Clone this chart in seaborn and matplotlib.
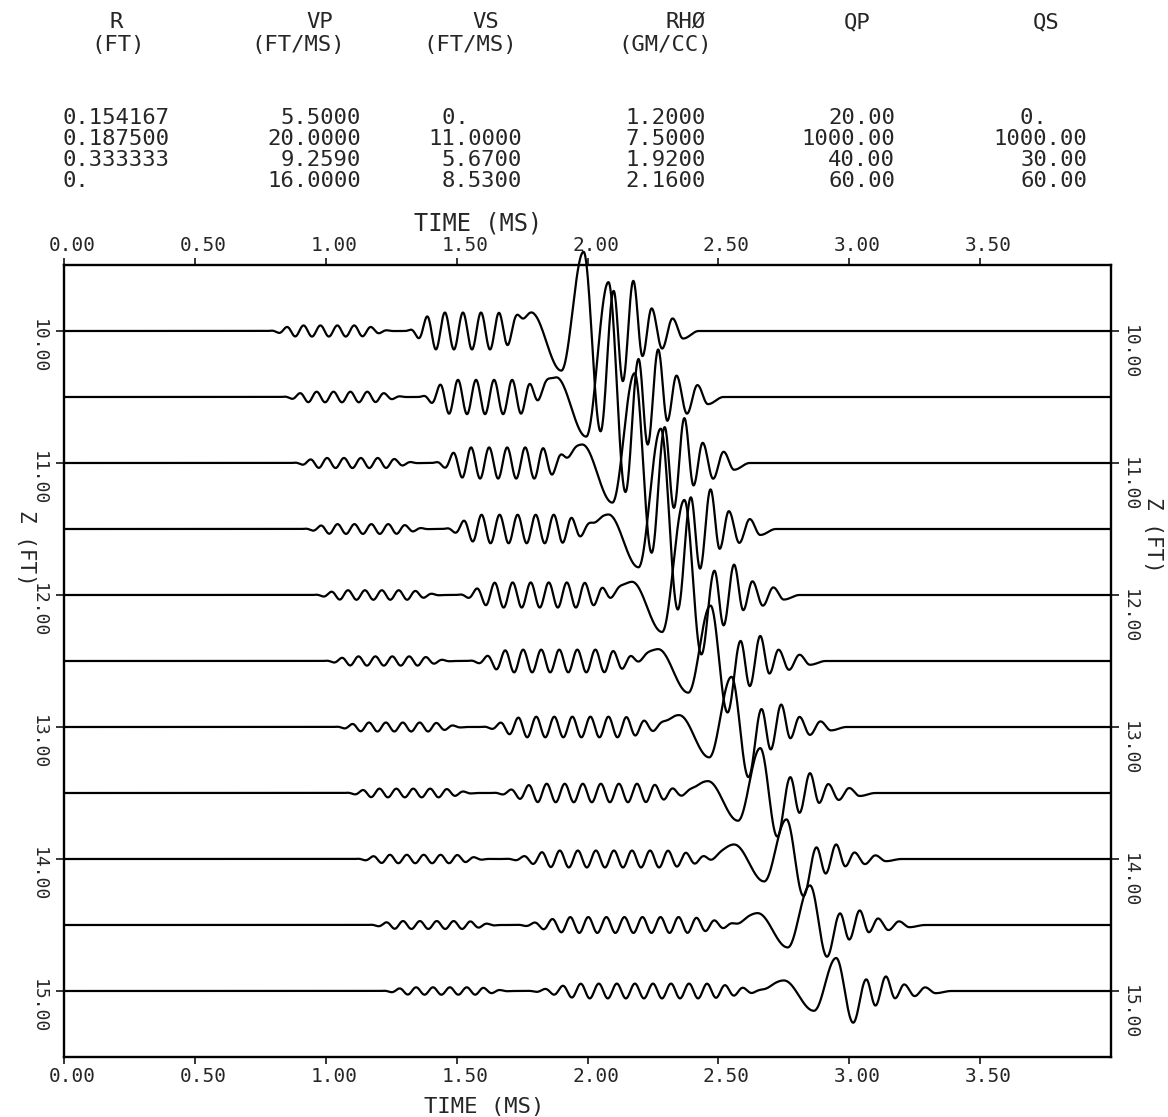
import numpy as np
import pandas as pd
import matplotlib
matplotlib.use("Agg")
import matplotlib.pyplot as plt
import seaborn as sns
from matplotlib.transforms import ScaledTranslation

# ---------------- data ----------------
depths = [10.0, 10.5, 11.0, 11.5, 12.0, 12.5, 13.0, 13.5, 14.0, 14.5, 15.0]   # Z (FT)

# P-wave packet: start / end time (ms), amplitude (ft of trace offset)
p_start = [0.77, 0.82, 0.86, 0.90, 0.94, 0.98, 1.02, 1.06, 1.10, 1.15, 1.20]
p_end   = [1.27, 1.32, 1.37, 1.41, 1.46, 1.50, 1.55, 1.59, 1.64, 1.68, 1.72]
p_amp   = [0.042, 0.040, 0.038, 0.037, 0.036, 0.035, 0.034, 0.033, 0.032, 0.030, 0.028]

# S-wave packet
s_start = [1.30, 1.35, 1.40, 1.44, 1.49, 1.53, 1.58, 1.62, 1.67, 1.71, 1.75]
s_end   = [1.80, 1.89, 1.98, 2.07, 2.17, 2.27, 2.35, 2.45, 2.55, 2.64, 2.73]
s_amp   = [0.140, 0.130, 0.118, 0.108, 0.095, 0.086, 0.078, 0.070, 0.064, 0.060, 0.056]

# large low-frequency pulse: time of main peak and extreme values (ft)
st_peak_time = [1.985, 2.08, 2.18, 2.28, 2.37, 2.47, 2.55, 2.66, 2.76, 2.85, 2.95]
st_bump      = [0.14, 0.15, 0.14, 0.11, 0.10, 0.09, 0.09, 0.09, 0.11, 0.09, 0.08]
st_pre       = [0.30, 0.30, 0.30, 0.29, 0.28, 0.24, 0.23, 0.21, 0.17, 0.17, 0.15]
st_main      = [0.60, 0.87, 0.68, 0.76, 0.72, 0.42, 0.38, 0.34, 0.30, 0.30, 0.25]
st_post      = [0.76, 0.72, 0.68, 0.61, 0.45, 0.39, 0.38, 0.33, 0.28, 0.24, 0.24]
st_tail      = [0.38, 0.36, 0.34, 0.30, 0.23, 0.19, 0.17, 0.15, 0.11, 0.11, 0.11]
# extremum times of the pulse relative to its main peak (ms) and tail pattern
st_rel_times = [-0.30, -0.20, -0.085, 0.0, 0.065, 0.115, 0.15, 0.19, 0.225,
                0.26, 0.30, 0.34, 0.38, 0.44]
tail_pattern = [0.8, -1.0, 1.0, -0.5, 0.45, -0.35, 0.25, -0.15]

x_ticks = [0.0, 0.5, 1.0, 1.5, 2.0, 2.5, 3.0, 3.5]
x_tick_labels = ["0.00", "0.50", "1.00", "1.50", "2.00", "2.50", "3.00", "3.50"]
y_ticks = [10, 11, 12, 13, 14, 15]
y_tick_labels = ["10.00", "11.00", "12.00", "13.00", "14.00", "15.00"]

col_heads = ["R", "VP", "VS", "RHØ", "QP", "QS"]
col_units = ["(FT)", "(FT/MS)", "(FT/MS)", "(GM/CC)", "", ""]
col_R   = ["0.154167", "0.187500", "0.333333", "0."]
col_VP  = ["5.5000", "20.0000", "9.2590", "16.0000"]
col_VS  = ["0.    ", "11.0000", "5.6700", "8.5300"]
col_RHO = ["1.2000", "7.5000", "1.9200", "2.1600"]
col_QP  = ["20.00", "1000.00", "40.00", "60.00"]
col_QS  = ["0.   ", "1000.00", "30.00", "60.00"]

F_P, F_S = 15.5, 14.5     # carrier frequencies (kHz) of the wave trains

# ---------------- build traces ----------------
t = np.linspace(0.0, 4.0, 2401)


def packet(tt, t1, t2, amp, f):
    u = (tt - t1) / (t2 - t1)
    env = np.zeros_like(tt)
    m = (u >= 0) & (u <= 1)
    uu = u[m]
    e = np.ones_like(uu)
    a = uu < 0.25
    e[a] = 0.5 * (1 - np.cos(np.pi * uu[a] / 0.25))
    b = uu > 0.7
    e[b] = 0.5 * (1 + np.cos(np.pi * (uu[b] - 0.7) / 0.3))
    env[m] = e
    return amp * env * np.sin(2 * np.pi * f * (tt - t1))


def pulse(tt, t0, vals):
    kt = t0 + np.asarray(st_rel_times)
    out = np.zeros_like(tt)
    for k in range(len(kt) - 1):
        m = (tt >= kt[k]) & (tt < kt[k + 1])
        s = (tt[m] - kt[k]) / (kt[k + 1] - kt[k])
        out[m] = vals[k] + (vals[k + 1] - vals[k]) * (1 - np.cos(np.pi * s)) / 2
    return out


frames = []
for i, z in enumerate(depths):
    tl = st_tail[i]
    vals = [0.0, st_bump[i], -st_pre[i], st_main[i], -st_post[i]] + \
           [tl * p for p in tail_pattern] + [0.0]
    sig = (packet(t, p_start[i], p_end[i], p_amp[i], F_P)
           + packet(t, s_start[i], s_end[i], s_amp[i], F_S)
           + pulse(t, st_peak_time[i], vals))
    frames.append(pd.DataFrame({"time": t, "zpos": z - sig, "depth": z}))
df = pd.concat(frames, ignore_index=True)

# ---------------- figure ----------------
sns.set_style("ticks")
plt.rcParams["font.family"] = ["DejaVu Sans Mono", "DejaVu Sans"]

W, H = 1168, 1117
fig = plt.figure(figsize=(W / 100, H / 100), dpi=100)
L, R, T, B = 64, 1111, 265, 1057
ax = fig.add_axes([L / W, 1 - B / H, (R - L) / W, (B - T) / H])

sns.lineplot(data=df, x="time", y="zpos", units="depth", estimator=None,
             sort=False, color="black", linewidth=1.6, ax=ax, legend=False)
for ln in ax.lines:
    ln.set_clip_on(False)

ax.set_xlim(0, 4.0)
ax.set_ylim(15.5, 9.5)
for sp in ax.spines.values():
    sp.set_linewidth(1.7)
    sp.set_color("black")

# x ticks, bottom and top
ax.set_xticks(x_ticks)
ax.set_xticklabels(x_tick_labels)
ax.tick_params(axis="x", direction="out", length=5, width=1.3, labelsize=14,
               pad=2, top=True, labeltop=True, bottom=True, labelbottom=True)
off_x = ScaledTranslation(8 / 100, 0, fig.dpi_scale_trans)
for tk in ax.xaxis.get_major_ticks():
    tk.label1.set_transform(tk.label1.get_transform() + off_x)
    tk.label2.set_transform(tk.label2.get_transform() + off_x)

ax.set_xlabel("TIME (MS)", fontsize=16)
ax.xaxis.set_label_coords((484 - L) / (R - L), -(1097 - B) / (B - T))
ax.text((478 - L) / (R - L), (B - 223) / (B - T), "TIME (MS)", fontsize=17,
        ha="center", va="center", transform=ax.transAxes)

# y ticks left and right
ax.set_yticks(y_ticks)
ax.set_yticklabels(y_tick_labels)
ax.tick_params(axis="y", direction="out", length=6, width=1.3, labelsize=13,
               left=True, right=True, labelleft=True, labelright=True, pad=8)
off_l = ScaledTranslation(3 / 100, -15 / 100, fig.dpi_scale_trans)
off_r = ScaledTranslation(-10 / 100, -21 / 100, fig.dpi_scale_trans)
for tk in ax.yaxis.get_major_ticks():
    for lab, off in ((tk.label1, off_l), (tk.label2, off_r)):
        lab.set_transform(lab.get_transform() + off)
        lab.set_rotation(270)
        lab.set_va("center")

ax.set_ylabel("Z (FT)", rotation=270, fontsize=15)
ax.yaxis.set_label_coords(-(L - 16) / (R - L), (B - 548) / (B - T))
ax.text((1153 - L) / (R - L), (B - 535) / (B - T), "Z (FT)", rotation=270,
        fontsize=15, ha="center", va="center", transform=ax.transAxes)

# header table
def ftxt(x, y, s, ha="center", size=16):
    fig.text(x / W, 1 - y / H, s, ha=ha, va="center", fontsize=size,
             family=["DejaVu Sans Mono"])

head_x = [116, 320, 486, 686, 857, 1046]
unit_x = [118, 298, 470, 665, 857, 1046]
for hx, s in zip(head_x, col_heads):
    ftxt(hx, 22, s)
for ux, s in zip(unit_x, col_units):
    if s:
        ftxt(ux, 45, s)

row_y = [118, 139, 160, 181]
for ry, s in zip(row_y, col_R):
    ftxt(63, ry, s, ha="left")
for col, rx in [(col_VP, 361), (col_VS, 522), (col_RHO, 706),
                (col_QP, 895), (col_QS, 1087)]:
    for ry, s in zip(row_y, col):
        ftxt(rx, ry, s, ha="right")

fig.savefig("out.png", dpi=100, facecolor="white")
